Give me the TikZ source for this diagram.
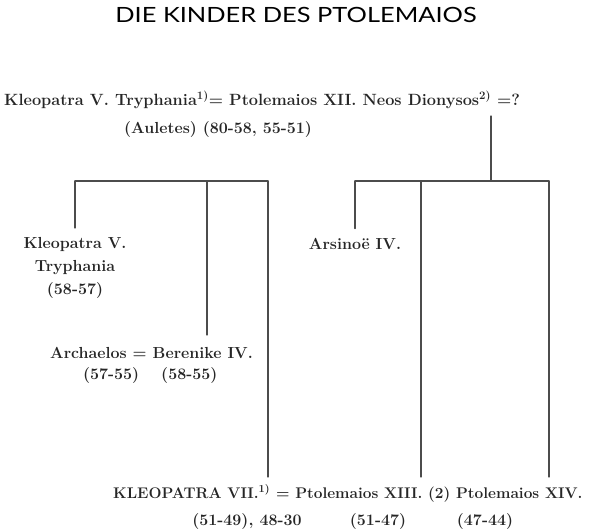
\documentclass[tikz,border=0pt]{standalone}
\usepackage{fontspec}
\newfontfamily\titlefont{Lato}
\begin{document}
\begin{tikzpicture}[x=1pt,y=-1pt,line join=round,line cap=round,
	person/.style={font=\bfseries\fontsize{16}{23}\selectfont,text=black!85,inner sep=0pt,align=center},
	bar/.style={draw=black!70,line width=1.1pt}]
	\useasboundingbox (0,0) rectangle (595,532);
	\node[font=\titlefont\fontsize{21}{24}\selectfont,inner sep=0pt,anchor=base] (titel) at (296,23) {\scalebox{1.21}[1]{DIE KINDER DES PTOLEMAIOS}};
	% Eltern
	\node[person,font=\bfseries\fontsize{16.3}{23}\selectfont,anchor=base west] (eltern) at (4,106) {Kleopatra V. Tryphania\textsuperscript{1)}= Ptolemaios XII. Neos Dionysos\textsuperscript{2)} =?};
	\node[person,anchor=base west] (auletes) at (124,134) {(Auletes) (80-58, 55-51)};
	% Kinder
	\node[person,anchor=north] (kleo5) at (75,237) {Kleopatra V.\\Tryphania\\(58-57)};
	\node[person,anchor=base] (arsinoe) at (355,249) {Arsino\"e IV.};
	\node[person,anchor=base west] (archelaos) at (50,358) {Archaelos = Berenike IV.};
	\node[person,anchor=base west] (jahreA) at (83,379) {(57-55)\quad\ (58-55)};
	\node[person,font=\bfseries\fontsize{15.4}{23}\selectfont,anchor=base west] (kleo7) at (113,498) {KLEOPATRA VII.\textsuperscript{1)} = Ptolemaios XIII. (2) Ptolemaios XIV.};
	\node[person,anchor=base] (jahreK) at (247,525) {(51-49), 48-30};
	\node[person,anchor=base] (jahreP13) at (378,525) {(51-47)};
	\node[person,anchor=base] (jahreP14) at (485,525) {(47-44)};
	% Linien
	\coordinate (oben) at (491,116);
	\coordinate (mitte) at (491,181);
	\coordinate (lL) at (75,181);
	\coordinate (lM) at (207,181);
	\coordinate (lR) at (268,181);
	\coordinate (rL) at (355,181);
	\coordinate (rM) at (421,181);
	\coordinate (rR) at (549,181);
	\coordinate (bere) at (207,335);
	\coordinate (k7) at (268,477);
	\coordinate (p13) at (421,477);
	\coordinate (p14) at (549,477);
	\draw[bar] (oben) -- (mitte);
	\draw[bar] (lL) -- (lR);
	\draw[bar] (rL) -- (rR);
	\draw[bar] (lL) -- ([yshift=9pt]kleo5.north);
	\draw[bar] (rL) -- ([yshift=9pt]arsinoe.north);
	\foreach \a/\b in {lM/bere,lR/k7,rM/p13,rR/p14} \draw[bar] (\a) -- (\b);
\end{tikzpicture}
\end{document}
